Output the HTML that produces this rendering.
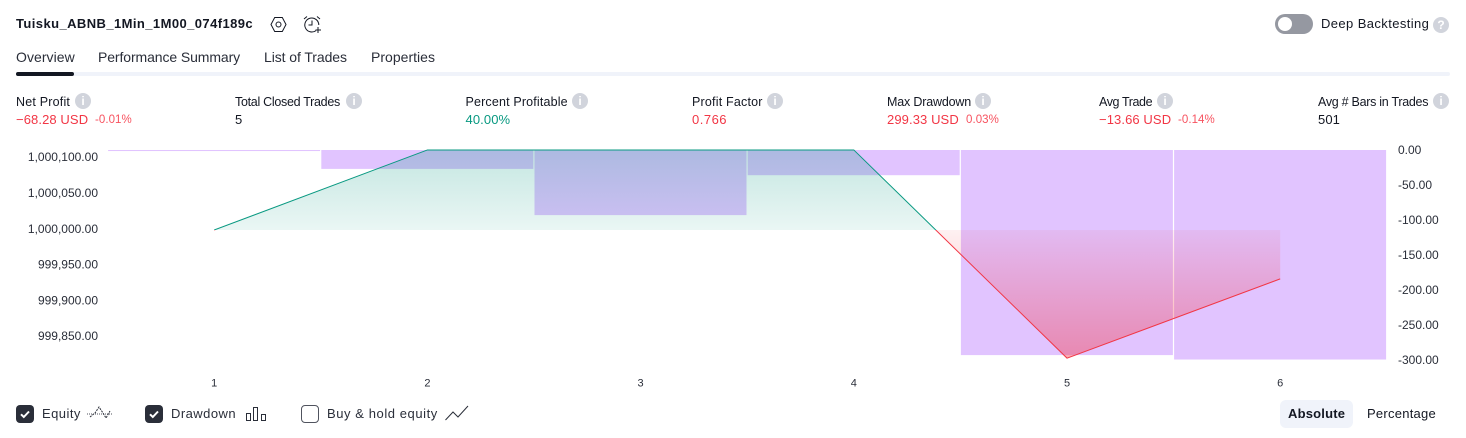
<!DOCTYPE html>
<html lang="en">
<head>
<meta charset="utf-8">
<title>Strategy Tester Overview</title>
<style>
html,body{margin:0;padding:0;background:#fff;}
body{width:1466px;height:438px;position:relative;overflow:hidden;font-family:"Liberation Sans",sans-serif;color:#131722;}
.t{position:absolute;white-space:nowrap;line-height:20px;height:20px;font-size:14px;}
.title{font-weight:bold;font-size:13px;letter-spacing:.42px;}
.tab{font-size:14px;color:#2a2e39;}
.lab{font-size:12.5px;}
.val{font-size:13px;letter-spacing:.1px;}
.sm{font-size:11.5px;letter-spacing:.05px;}
.red{color:#f23645;}.redl{color:#f7525f;}.green{color:#089981;}
.info{position:absolute;width:16px;height:16px;border-radius:50%;background:#d1d4dc;color:#fff;font-size:12px;font-weight:bold;line-height:16px;text-align:center;}
.box{position:absolute;width:18px;height:18px;top:405px;border-radius:4px;background:#2a2e39;box-sizing:border-box;}
.box.off{background:#fff;border:1px solid #50535e;}
.box svg{position:absolute;left:0;top:0;}
svg.ic{position:absolute;overflow:visible;}
</style>
</head>
<body>

<span class="t title" style="left:16px;top:14px">Tuisku_ABNB_1Min_1M00_074f189c</span>
<svg class="ic" style="left:270px;top:16px" width="17" height="17" viewBox="0 0 17 17"><path d="M4.7 1.5h7.6L16 8.5l-3.7 7H4.7L1 8.5z" fill="none" stroke="#131722" stroke-width="1"/><circle cx="8.5" cy="8.5" r="2.5" fill="none" stroke="#131722"/></svg>
<svg class="ic" style="left:303px;top:15px" width="18" height="18" viewBox="0 0 18 18"><path d="M13 15.6A7 7 0 1 1 15.8 10" fill="none" stroke="#131722"/><path d="M9 5.5V10H5.5M1 4l3-2.5M17 4l-3-2.5M12.5 15H18M15 12v6" fill="none" stroke="#131722"/></svg>

<div style="position:absolute;left:1275px;top:14px;width:38px;height:20px;border-radius:10px;background:#9598a1"><div style="position:absolute;left:3px;top:3px;width:14px;height:14px;border-radius:50%;background:#fff"></div></div>
<span class="t" style="left:1321px;top:14px;font-size:13px;letter-spacing:.4px">Deep Backtesting</span>
<div class="info" style="left:1433px;top:17px">?</div>

<span class="t tab" style="left:16px;top:47px;letter-spacing:.05px">Overview</span>
<span class="t tab" style="left:98px;top:47px;letter-spacing:-.1px">Performance Summary</span>
<span class="t tab" style="left:264px;top:47px;letter-spacing:-.08px">List of Trades</span>
<span class="t tab" style="left:371px;top:47px;letter-spacing:.02px">Properties</span>
<div style="position:absolute;left:16px;top:72px;width:1434px;height:4px;background:#f0f3fa;border-radius:2px"></div>
<div style="position:absolute;left:16px;top:72px;width:58px;height:4px;background:#131722;border-radius:2px"></div>

<span class="t lab" style="left:16px;top:92px;letter-spacing:.2px">Net Profit</span>
<div class="info" style="left:75px;top:93px">i</div>
<span class="t val red" style="left:16px;top:110px">−68.28 USD</span>
<span class="t sm redl" style="left:95px;top:110px">-0.01%</span>

<span class="t lab" style="left:235px;top:92px;letter-spacing:-.29px">Total Closed Trades</span>
<div class="info" style="left:346px;top:93px">i</div>
<span class="t val" style="left:235px;top:110px">5</span>

<span class="t lab" style="left:465.5px;top:92px;letter-spacing:.16px">Percent Profitable</span>
<div class="info" style="left:572px;top:93px">i</div>
<span class="t val green" style="left:465.5px;top:110px">40.00%</span>

<span class="t lab" style="left:692px;top:92px;letter-spacing:.2px">Profit Factor</span>
<div class="info" style="left:767px;top:93px">i</div>
<span class="t val red" style="left:692px;top:110px;letter-spacing:.5px">0.766</span>

<span class="t lab" style="left:887px;top:92px;letter-spacing:-.18px">Max Drawdown</span>
<div class="info" style="left:975px;top:93px">i</div>
<span class="t val red" style="left:887px;top:110px">299.33 USD</span>
<span class="t sm redl" style="left:966px;top:110px">0.03%</span>

<span class="t lab" style="left:1099px;top:92px;letter-spacing:-.4px">Avg Trade</span>
<div class="info" style="left:1157px;top:93px">i</div>
<span class="t val red" style="left:1099px;top:110px">−13.66 USD</span>
<span class="t sm redl" style="left:1178px;top:110px">-0.14%</span>

<span class="t lab" style="left:1318px;top:92px;letter-spacing:-.28px">Avg # Bars in Trades</span>
<div class="info" style="left:1433px;top:93px">i</div>
<span class="t val" style="left:1318px;top:110px">501</span>

<svg id="chart" style="position:absolute;left:0;top:130px" width="1466" height="265" viewBox="0 130 1466 265"></svg>

<div class="box" style="left:16px"><svg width="18" height="18" viewBox="0 0 18 18"><path d="M5 9.3l2.8 2.7L13 6.5" fill="none" stroke="#fff" stroke-width="2"/></svg></div>
<span class="t" style="left:42px;top:404px;font-size:13px;letter-spacing:.45px;color:#2a2e39">Equity</span>
<svg class="ic" style="left:87px;top:403px" width="26" height="20" viewBox="0 0 26 20"><path d="M0 11h25" stroke="#50535e" stroke-dasharray="1 1" fill="none"/><path d="M3 14l5-4 4-6 4 6 3 5 4-7" stroke="#2a2e39" stroke-dasharray="2 1" fill="none"/></svg>

<div class="box" style="left:145px"><svg width="18" height="18" viewBox="0 0 18 18"><path d="M5 9.3l2.8 2.7L13 6.5" fill="none" stroke="#fff" stroke-width="2"/></svg></div>
<span class="t" style="left:171px;top:404px;font-size:13px;letter-spacing:.45px;color:#2a2e39">Drawdown</span>
<svg class="ic" style="left:246px;top:406px" width="20" height="16" viewBox="0 0 20 16"><path d="M.5 7.5h4v7h-4zM7.5 1.5h4v13h-4zM15.500 8.500h4v6h-4z" fill="none" stroke="#2a2e39"/></svg>

<div class="box off" style="left:301px"></div>
<span class="t" style="left:327px;top:404px;font-size:13px;letter-spacing:.57px;color:#2a2e39">Buy &amp; hold equity</span>
<svg class="ic" style="left:445px;top:405px" width="24" height="16" viewBox="0 0 24 16"><path d="M.5 15L8 7l5 5L23 1" fill="none" stroke="#2a2e39"/></svg>

<div style="position:absolute;left:1280px;top:400px;width:73px;height:28px;border-radius:6px;background:#f0f3fa"></div>
<span class="t" style="left:1288px;top:404px;font-size:13px;font-weight:bold;letter-spacing:.2px">Absolute</span>
<span class="t" style="left:1367px;top:404px;font-size:13px;letter-spacing:.25px">Percentage</span>

<script>
const categories = [1, 2, 3, 4, 5, 6];
const equityValues = [1000000, 1000111.8, 1000111.8, 1000111.8, 999821, 999931.72];
const drawdownValues = [-1.5, -27, -93, -36, -293, -299.33];
const equityTicks = [1000100, 1000050, 1000000, 999950, 999900, 999850];
const drawdownTicks = [0, -50, -100, -150, -200, -250, -300];
const equityBase = 1000000;

const NS = 'http://www.w3.org/2000/svg';
const chart = document.getElementById('chart');
const plotLeft = 107.6, bandWidth = 213.2, plotTop = 150;
const equityZeroY = 230, equityScale = 0.716, drawdownScale = 0.7;

function xBand(i){ return plotLeft + i * bandWidth; }
function xCenter(i){ return xBand(i) + bandWidth / 2; }
function yEquity(v){ return equityZeroY - (v - equityBase) * equityScale; }
function yDrawdown(v){ return plotTop - v * drawdownScale; }
function make(tag, attrs, parent){
  const el = document.createElementNS(NS, tag);
  for (const k in attrs) el.setAttribute(k, attrs[k]);
  (parent || chart).appendChild(el);
  return el;
}
function fmt(v){
  return v.toLocaleString('en-US', {minimumFractionDigits: 2, maximumFractionDigits: 2});
}

const defs = make('defs', {});
defs.innerHTML =
  '<linearGradient id="gGreen" gradientUnits="userSpaceOnUse" x1="0" y1="150" x2="0" y2="230">' +
  '<stop offset="0" stop-color="#089981" stop-opacity=".24"/><stop offset="1" stop-color="#089981" stop-opacity=".085"/></linearGradient>' +
  '<linearGradient id="gRed" gradientUnits="userSpaceOnUse" x1="0" y1="230" x2="0" y2="358">' +
  '<stop offset="0" stop-color="#f23645" stop-opacity=".07"/><stop offset="1" stop-color="#f23645" stop-opacity=".42"/></linearGradient>' +
  '<clipPath id="cAbove"><rect x="0" y="130" width="1466" height="' + (equityZeroY - 130) + '"/></clipPath>' +
  '<clipPath id="cBelow"><rect x="0" y="' + equityZeroY + '" width="1466" height="200"/></clipPath>';

drawdownValues.forEach(function(v, i){
  const bar = make('rect', {
    x: xBand(i) + 0.5,
    y: yDrawdown(0),
    width: bandWidth - 1.2,
    height: yDrawdown(v) - yDrawdown(0),
    fill: '#e1c4ff'
  });
  
  
});

const linePts = equityValues.map(function(v, i){ return xCenter(i) + ',' + yEquity(v); }).join(' ');
const areaPts = xCenter(0) + ',' + equityZeroY + ' ' + linePts + ' ' + xCenter(equityValues.length - 1) + ',' + equityZeroY;

const areaUp = make('polygon', {points: areaPts, fill: 'url(#gGreen)', 'clip-path': 'url(#cAbove)'});


const areaDown = make('polygon', {points: areaPts, fill: 'url(#gRed)', 'clip-path': 'url(#cBelow)'});


const lineUp = make('polyline', {points: linePts, fill: 'none', stroke: '#089981', 'stroke-width': 1, 'clip-path': 'url(#cAbove)'});


const lineDown = make('polyline', {points: linePts, fill: 'none', stroke: '#f23645', 'stroke-width': 1, 'clip-path': 'url(#cBelow)'});



const textBase = {'font-family': '"Liberation Sans", sans-serif', 'font-size': 12, fill: '#2a2e39', 'dominant-baseline': 'central'};

equityTicks.forEach(function(v){
  const label = make('text', Object.assign({x: 98, y: yEquity(v) - 1.2, 'text-anchor': 'end'}, textBase));
  label.textContent = fmt(v);
  
  
});
drawdownTicks.forEach(function(v){
  const label = make('text', Object.assign({x: 1398, y: yDrawdown(v), 'text-anchor': 'start'}, textBase));
  label.textContent = fmt(v);
  
  
});
categories.forEach(function(c, i){
  const label = make('text', Object.assign({x: xCenter(i), y: 383.500, 'text-anchor': 'middle'}, textBase, {'font-size': 11}));
  label.textContent = String(c);
  
  
});
</script>
</body>
</html>
